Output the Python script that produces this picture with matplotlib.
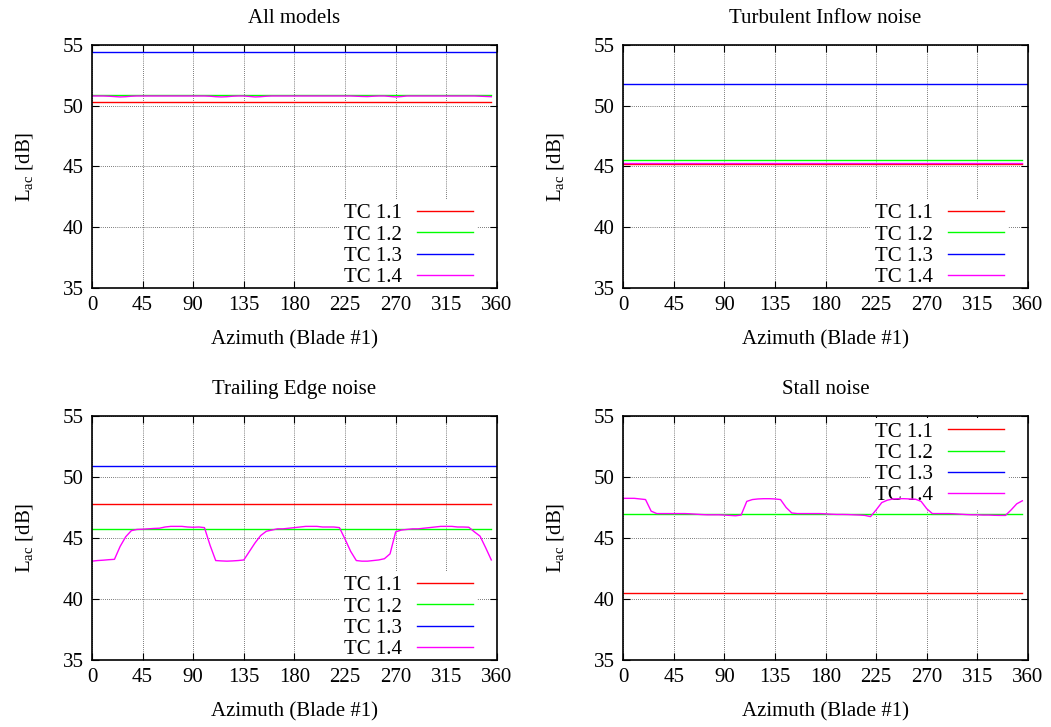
import numpy as np
import matplotlib
matplotlib.use("Agg")
import matplotlib.pyplot as plt

# ------- DATA -------
az = np.arange(0, 365, 5)  # 0..360 deg, blade #1 azimuth
labels = ["TC 1.1", "TC 1.2", "TC 1.3", "TC 1.4"]
colors = ["#ff0000", "#00ff00", "#0000ff", "#ff00ff"]

# All models
all_tc11 = [50.27] * 72
all_tc12 = [50.90] * 72
all_tc13 = [54.42] * 73
all_tc14 = [50.80, 50.80, 50.80, 50.78, 50.75, 50.72, 50.74, 50.78, 50.80, 50.80, 50.80, 50.80,
            50.80, 50.80, 50.80, 50.80, 50.80, 50.80, 50.80, 50.80, 50.80, 50.78, 50.74, 50.72,
            50.74, 50.78, 50.80, 50.80, 50.76, 50.72, 50.74, 50.78, 50.80, 50.80, 50.80, 50.80,
            50.80, 50.80, 50.80, 50.80, 50.80, 50.80, 50.80, 50.80, 50.80, 50.80, 50.80, 50.78,
            50.76, 50.75, 50.78, 50.80, 50.80, 50.76, 50.72, 50.75, 50.80, 50.80, 50.80, 50.80,
            50.80, 50.80, 50.80, 50.80, 50.80, 50.80, 50.80, 50.80, 50.80, 50.78, 50.76, 50.74]

# Turbulent inflow
ti_tc11 = [45.17] * 72
ti_tc12 = [45.50] * 72
ti_tc13 = [51.78] * 73
ti_tc14 = [45.25] * 72

# Trailing edge
te_tc11 = [47.81] * 72
te_tc12 = [45.70] * 72
te_tc13 = [50.90] * 73
te_tc14 = [43.10, 43.15, 43.18, 43.22, 43.25, 44.30, 45.10, 45.60, 45.70, 45.72, 45.75, 45.78,
           45.80, 45.90, 45.95, 45.95, 45.95, 45.90, 45.88, 45.90, 45.85, 44.40, 43.15, 43.12,
           43.10, 43.12, 43.15, 43.20, 43.90, 44.60, 45.20, 45.55, 45.65, 45.75, 45.75, 45.80,
           45.85, 45.90, 45.95, 45.95, 45.95, 45.90, 45.90, 45.90, 45.85, 44.90, 43.90, 43.15,
           43.10, 43.10, 43.15, 43.20, 43.30, 43.70, 45.50, 45.65, 45.70, 45.75, 45.75, 45.80,
           45.85, 45.90, 45.95, 45.95, 45.95, 45.90, 45.90, 45.88, 45.50, 45.15, 44.20, 43.20]

# Stall
st_tc11 = [40.52] * 72
st_tc12 = [46.95] * 72
st_tc13 = [np.nan] * 72
st_tc14 = [48.25, 48.25, 48.25, 48.20, 48.15, 47.20, 47.00, 47.00, 47.00, 47.00, 47.00, 47.00,
           46.98, 46.95, 46.92, 46.90, 46.90, 46.90, 46.88, 46.85, 46.82, 46.88, 48.00, 48.15,
           48.20, 48.22, 48.22, 48.20, 48.15, 47.50, 47.05, 47.00, 47.00, 47.00, 47.00, 47.00,
           46.98, 46.95, 46.93, 46.93, 46.92, 46.90, 46.88, 46.85, 46.75, 47.30, 47.90, 48.10,
           48.20, 48.22, 48.22, 48.20, 48.18, 48.00, 47.40, 47.00, 47.00, 47.00, 47.00, 46.98,
           46.95, 46.92, 46.90, 46.90, 46.88, 46.88, 46.86, 46.85, 46.85, 47.30, 47.80, 48.05]

panels = [
    ("All models", [all_tc11, all_tc12, all_tc13, all_tc14], "lower right", (0.951, -0.014)),
    ("Turbulent Inflow noise", [ti_tc11, ti_tc12, ti_tc13, ti_tc14], "lower right", (0.951, -0.014)),
    ("Trailing Edge noise", [te_tc11, te_tc12, te_tc13, te_tc14], "lower right", (0.951, -0.014)),
    ("Stall noise", [st_tc11, st_tc12, st_tc13, st_tc14], "upper right", (0.951, 0.992)),
]

# ------- PLOT -------
plt.rcParams['font.family'] = ['Liberation Serif', 'DejaVu Serif']
plt.rcParams['mathtext.fontset'] = 'custom'
plt.rcParams['mathtext.rm'] = 'Liberation Serif'
plt.rcParams['mathtext.it'] = 'Liberation Serif'

fig = plt.figure(figsize=(10.51, 7.27), dpi=100)
positions = [
    [0.0875, 0.6039, 0.3853, 0.3343],
    [0.5928, 0.6039, 0.3853, 0.3343],
    [0.0875, 0.0922, 0.3853, 0.3356],
    [0.5928, 0.0922, 0.3853, 0.3356],
]
FS = 15

for pos, (title, series, loc, anchor) in zip(positions, panels):
    ax = fig.add_axes(pos)
    for lab, col, vals in zip(labels, colors, series):
        ax.plot(az[:len(vals)], vals, color=col, lw=1.0, label=lab, zorder=2)
    ax.set_xlim(0, 360)
    ax.set_ylim(35, 55)
    ax.set_xticks(np.arange(0, 361, 45))
    ax.set_yticks(np.arange(35, 56, 5))
    ax.grid(True, color='black', linestyle=(0, (1, 2)), lw=0.5)
    ax.tick_params(direction='in', top=True, right=True, labelsize=FS, length=5, pad=6)
    for s in ax.spines.values():
        s.set_linewidth(1.2)
    ax.set_title(title, fontsize=FS, pad=16)
    ax.set_xlabel("Azimuth (Blade #1)", fontsize=FS, labelpad=11)
    ax.set_ylabel(r"L$_{\mathrm{ac}}$ [dB]", fontsize=FS, labelpad=20)
    leg = ax.legend(loc=loc, bbox_to_anchor=anchor, fontsize=FS, markerfirst=False,
                    frameon=True, fancybox=False, handlelength=2.7, labelspacing=0.08,
                    borderpad=0.2, handletextpad=0.7, borderaxespad=0.0)
    leg.get_frame().set_edgecolor('none')
    leg.get_frame().set_alpha(1.0)
    leg.set_zorder(1.8)  # opaque key above grid, below the curves
    for t in leg.get_texts():
        t.set_ha('right')

fig.savefig("out.png", dpi=100)
